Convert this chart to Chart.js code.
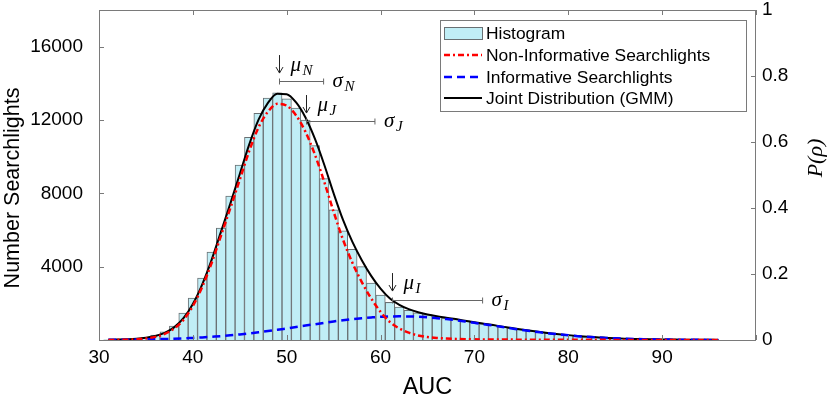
<!DOCTYPE html>
<html><head><meta charset="utf-8">
<script src="https://cdn.jsdelivr.net/npm/chart.js@4.4.0/dist/chart.umd.min.js"></script>
<style>html,body{margin:0;padding:0;background:#fff;}canvas{display:block;}</style>
</head><body>
<canvas id="c" width="829" height="399"></canvas>
<script>
// ---------- data ----------
const binCenters = [31,32,33,34,35,36,37,38,39,40,41,42,43,44,45,46,47,48,49,50,51,52,53,54,55,56,57,58,59,60,61,62,63,64,65,66,67,68,69,70,71,72,73,74,75,76,77,78,79,80,81,82,83,84,85,86,87,88,89,90,91,92,93,94,95];
const histCounts = [5,15,35,70,140,270,440,760,1470,2290,3380,4800,6100,7850,9540,11060,12370,13190,13480,13150,12650,12000,10600,8800,7100,5950,4950,4000,3100,2450,2050,1800,1620,1480,1380,1280,1200,1120,1040,960,880,800,720,640,570,500,430,370,310,260,215,175,140,115,90,70,55,45,35,25,20,15,10,8,5];
const curveX = [31,32,33,34,35,36,37,38,39,40,41,42,43,44,45,46,47,48,49,50,51,52,53,54,55,56,57,58,59,60,61,62,63,64,65,66,67,68,69,70,71,72,73,74,75,76,77,78,79,80,81,82,83,84,85,86,87,88,89,90,91,92,93,94,95,96];
const nonInformative = [3,8,18,40,85,170,330,620,1100,1850,2900,4200,5700,7200,8750,10300,11600,12450,12880,12780,12250,11350,10120,8625,6990,5470,4210,3160,2270,1535,975,630,400,250,160,110,80,60,45,35,30,27,24,21,19,17,15,13,12,11,10,9,8,7,6,5,5,4,4,3,3,3,2,2,2,2];
const informative = [10,15,20,25,35,45,55,70,90,115,140,175,210,255,305,360,420,485,555,630,705,785,860,935,1010,1080,1140,1190,1230,1265,1285,1290,1285,1265,1235,1190,1140,1080,1010,935,860,785,705,630,555,485,420,360,305,255,210,175,140,115,90,70,55,45,35,25,20,15,10,8,6,4];
const joint = [13,23,38,65,120,215,385,690,1190,1965,3040,4375,5910,7455,9055,10660,12020,12935,13435,13410,12955,12135,10980,9560,8000,6550,5350,4350,3500,2800,2260,1920,1685,1515,1395,1300,1220,1140,1055,970,890,812,729,651,574,502,435,373,317,266,220,184,148,122,96,75,60,49,39,28,23,18,12,10,8,6];
const xTicks = [30,40,50,60,70,80,90,100];
const yLeftTicks = [0,4000,8000,12000,16000];
const yRightTicks = [0,0.2,0.4,0.6,0.8,1];
const seriesLabels = ['Histogram','Non-Informative Searchlights','Informative Searchlights','Joint Distribution (GMM)'];
const yLeftTitle = 'Number Searchlights';
const yRightTitle = 'P(ρ)';
const annNames = ['N','J','I'];
const annMu = [49.23, 52.1, 61.27];
const annSigma = [4.7, 7.3, 9.6];
const annTip = [14560, 12380, 2670];
const annBar = [14130, 11920, 2180];

// ---------- styles ----------
const SANS = "'Liberation Sans', Arial, Helvetica, sans-serif";
const SERIF = "'Liberation Serif', 'DejaVu Serif', serif";
const AXIS_GRAY = '#7a7a7a';

const pts = (xs, ys) => xs.map((x, i) => ({x, y: ys[i]}));
const noPad = s => { s.paddingTop = 0; s.paddingBottom = 0; s.paddingLeft = 0; s.paddingRight = 0; };

const decor = {
  id: 'decor',
  afterDatasetsDraw(chart) {
    const ctx = chart.ctx, a = chart.chartArea;
    const xs = chart.scales.x, yl = chart.scales.y, yr = chart.scales.y2;
    ctx.save();
    // frame
    ctx.strokeStyle = AXIS_GRAY; ctx.lineWidth = 1;
    ctx.strokeRect(Math.round(a.left) + 0.5, Math.round(a.top) + 0.5, Math.round(a.right - a.left) - 1, Math.round(a.bottom - a.top));
    // inward ticks
    const TL = 5;
    ctx.beginPath();
    xTicks.forEach(v => {
      const px = Math.round(xs.getPixelForValue(v)) + 0.5;
      ctx.moveTo(px, a.bottom); ctx.lineTo(px, a.bottom - TL);
      ctx.moveTo(px, a.top); ctx.lineTo(px, a.top + TL);
    });
    yLeftTicks.forEach(v => {
      const py = Math.round(yl.getPixelForValue(v)) + 0.5;
      ctx.moveTo(a.left, py); ctx.lineTo(a.left + TL, py);
    });
    yRightTicks.forEach(v => {
      const py = Math.round(yr.getPixelForValue(v)) + 0.5;
      ctx.moveTo(a.right, py); ctx.lineTo(a.right - TL, py);
    });
    ctx.stroke();

    // annotations (mu arrows and sigma bars)
    for (let i = 0; i < annMu.length; i++) {
      const x0 = Math.round(xs.getPixelForValue(annMu[i])) + 0.5;
      const x1 = xs.getPixelForValue(annMu[i] + annSigma[i]);
      const tip = yl.getPixelForValue(annTip[i]);
      const by = Math.round(yl.getPixelForValue(annBar[i])) + 0.5;
      ctx.strokeStyle = '#222'; ctx.lineWidth = 1;
      ctx.beginPath();
      ctx.moveTo(x0, tip - 18); ctx.lineTo(x0, tip);
      ctx.moveTo(x0 - 3.5, tip - 6); ctx.lineTo(x0, tip); ctx.lineTo(x0 + 3.5, tip - 6);
      ctx.stroke();
      ctx.strokeStyle = '#666';
      ctx.beginPath();
      ctx.moveTo(x0, by); ctx.lineTo(x1, by);
      ctx.moveTo(x0, by - 3); ctx.lineTo(x0, by + 3);
      ctx.moveTo(x1, by - 3); ctx.lineTo(x1, by + 3);
      ctx.stroke();
      ctx.fillStyle = '#000'; ctx.textAlign = 'left'; ctx.textBaseline = 'alphabetic';
      ctx.font = 'italic 21px ' + SERIF;
      ctx.fillText('μ', x0 + 11, tip - 2);
      ctx.font = 'italic 15px ' + SERIF;
      ctx.fillText(annNames[i], x0 + 23, tip + 2);
      ctx.font = 'italic 21px ' + SERIF;
      ctx.fillText('σ', x1 + 9, by + 5.5);
      ctx.font = 'italic 15px ' + SERIF;
      ctx.fillText(annNames[i], x1 + 21, by + 9);
    }

    // legend
    const L = {x0: 440.5, y0: 20.5, x1: 746.5, y1: 111.5};
    ctx.fillStyle = '#fff';
    ctx.fillRect(L.x0, L.y0, L.x1 - L.x0, L.y1 - L.y0);
    ctx.strokeStyle = AXIS_GRAY; ctx.lineWidth = 1;
    ctx.strokeRect(L.x0, L.y0, L.x1 - L.x0, L.y1 - L.y0);
    const rows = [33, 55, 77, 98];
    chart.data.datasets.forEach((ds, i) => {
      const y = rows[i];
      if (i === 0) {
        ctx.fillStyle = ds.backgroundColor;
        ctx.fillRect(444, y - 6, 38, 12);
        ctx.strokeStyle = ds.borderColor; ctx.setLineDash([]);
        ctx.strokeRect(444.5, y - 5.5, 38, 12);
      } else {
        ctx.strokeStyle = ds.borderColor; ctx.lineWidth = ds.borderWidth;
        ctx.setLineDash(ds.borderDash || []);
        ctx.beginPath(); ctx.moveTo(444, y); ctx.lineTo(482, y); ctx.stroke();
        ctx.setLineDash([]); ctx.lineWidth = 1;
      }
      ctx.fillStyle = '#000'; ctx.font = '17.4px ' + SANS;
      ctx.textAlign = 'left'; ctx.textBaseline = 'middle';
      ctx.fillText(ds.label, 486, y + 1);
    });

    // axis titles (rotated, reading bottom-to-top)
    ctx.fillStyle = '#000';
    ctx.textAlign = 'center'; ctx.textBaseline = 'middle';
    ctx.save();
    ctx.translate(13, 188);
    ctx.rotate(-Math.PI / 2);
    ctx.font = '21.5px ' + SANS;
    ctx.fillText(yLeftTitle, 0, 0);
    ctx.restore();
    ctx.save();
    ctx.translate(816, 158);
    ctx.rotate(-Math.PI / 2);
    ctx.font = 'italic 22px ' + SERIF;
    ctx.fillText(yRightTitle, 0, 0);
    ctx.restore();

    ctx.restore();
  }
};

new Chart(document.getElementById('c'), {
  type: 'bar',
  data: {
    datasets: [
      {type: 'bar', label: seriesLabels[0], data: pts(binCenters, histCounts),
       backgroundColor: 'rgb(192,238,246)', borderColor: 'rgb(105,112,115)', borderWidth: 1,
       barPercentage: 1, categoryPercentage: 1, order: 10, yAxisID: 'y'},
      {type: 'line', label: seriesLabels[1], data: pts(curveX, nonInformative),
       borderColor: '#ff0000', borderWidth: 2.5, borderDash: [6, 3, 2, 3], pointRadius: 0,
       cubicInterpolationMode: 'monotone', fill: false, order: 1, yAxisID: 'y'},
      {type: 'line', label: seriesLabels[2], data: pts(curveX, informative),
       borderColor: '#0000ff', borderWidth: 2.5, borderDash: [8, 5], pointRadius: 0,
       cubicInterpolationMode: 'monotone', fill: false, order: 2, yAxisID: 'y'},
      {type: 'line', label: seriesLabels[3], data: pts(curveX, joint),
       borderColor: '#000000', borderWidth: 2, pointRadius: 0,
       cubicInterpolationMode: 'monotone', fill: false, order: 3, yAxisID: 'y'}
    ]
  },
  options: {
    responsive: false, animation: false, devicePixelRatio: 1,
    layout: {padding: {top: 10, left: 0, right: 0, bottom: 0}},
    plugins: {legend: {display: false}, tooltip: {enabled: false}},
    scales: {
      x: {
        type: 'linear', min: 30, max: 100, offset: false,
        afterFit: s => { s.height = 59; noPad(s); },
        afterBuildTicks: s => { s.ticks = xTicks.map(v => ({value: v})); },
        ticks: {callback: v => (v === 100 ? '' : String(v)), font: {family: SANS, size: 19}, color: '#000', maxRotation: 0, padding: 6},
        grid: {display: false, drawTicks: false}, border: {display: false},
        title: {display: true, text: 'AUC', font: {family: SANS, size: 23.5, lineHeight: 1.0}, color: '#000', padding: {top: 0, bottom: 0}}
      },
      y: {
        position: 'left', min: 0, max: 18000,
        afterFit: s => { s.width = 99; noPad(s); },
        afterBuildTicks: s => { s.ticks = yLeftTicks.map(v => ({value: v})); },
        ticks: {callback: v => (v === 0 ? '' : String(v)), font: {family: SANS, size: 19}, color: '#000', padding: 16},
        grid: {display: false, drawTicks: false}, border: {display: false}
      },
      y2: {
        position: 'right', min: 0, max: 1,
        afterFit: s => { s.width = 73; noPad(s); },
        afterBuildTicks: s => { s.ticks = yRightTicks.map(v => ({value: v})); },
        ticks: {callback: v => String(+v.toFixed(1)), font: {family: SANS, size: 19}, color: '#000', padding: 6},
        grid: {display: false, drawTicks: false}, border: {display: false}
      }
    }
  },
  plugins: [decor]
});
</script>
</body></html>
